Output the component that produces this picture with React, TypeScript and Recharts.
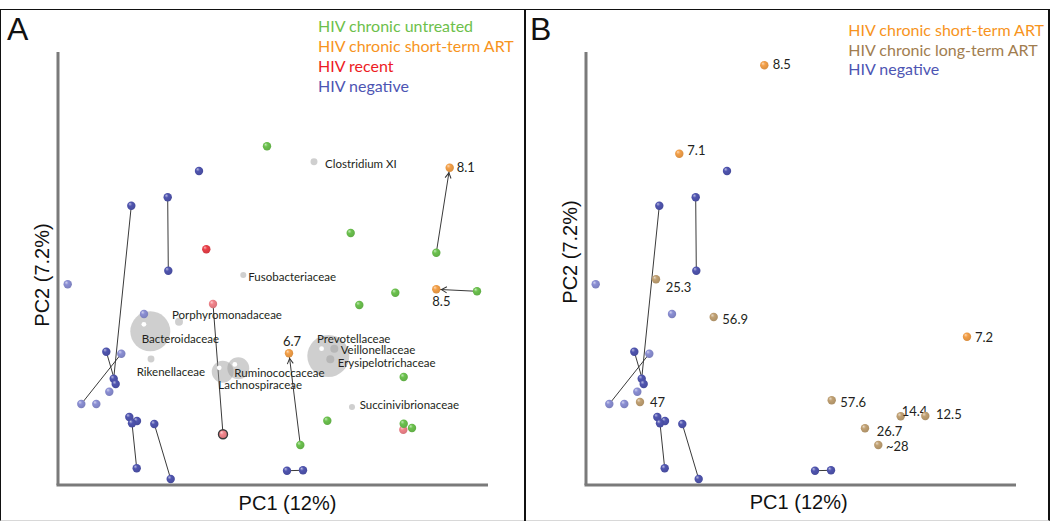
import React from 'react';
import { ScatterChart, Scatter, XAxis, YAxis, ReferenceLine } from 'recharts';

type Pt = { id: string; pc1: number; pc2: number; label?: string };
type Taxon = { name: string; pc1: number; pc2: number; abundance: number };

// ---------- data (PC scores) ----------
const hivNegative: Pt[] = [
  { id: 'n1', pc1: 141, pc2: 314 },
  { id: 'n2', pc1: 109.7, pc2: 287.7 },
  { id: 'n3', pc1: 73.3, pc2: 279.3 },
  { id: 'n4', pc1: 110.3, pc2: 214.3 },
  { id: 'n7', pc1: 48.3, pc2: 133.3 },
  { id: 'n9', pc1: 55.7, pc2: 106.3 },
  { id: 'n10', pc1: 57.7, pc2: 101 },
  { id: 'n14', pc1: 71.3, pc2: 68 },
  { id: 'n15', pc1: 79, pc2: 64 },
  { id: 'n16', pc1: 74, pc2: 61.7 },
  { id: 'n17', pc1: 96.3, pc2: 61 },
  { id: 'n18', pc1: 78.7, pc2: 16.7 },
  { id: 'n19', pc1: 112.7, pc2: 6 },
  { id: 'n20', pc1: 229, pc2: 14.3 },
  { id: 'n21', pc1: 245, pc2: 14.7 },
];
const hivNegativeFaded: Pt[] = [
  { id: 'n5', pc1: 9.7, pc2: 200.7 },
  { id: 'n6', pc1: 86, pc2: 171 },
  { id: 'n8', pc1: 63.3, pc2: 131.3 },
  { id: 'n11', pc1: 51.3, pc2: 93.3 },
  { id: 'n12', pc1: 23.3, pc2: 81 },
  { id: 'n13', pc1: 38.3, pc2: 81 },
];
const hivChronicUntreated: Pt[] = [
  { id: 'g1', pc1: 209, pc2: 338.7 },
  { id: 'g2', pc1: 292.7, pc2: 252 },
  { id: 'g3', pc1: 378.3, pc2: 232.3 },
  { id: 'g4', pc1: 337.3, pc2: 192.3 },
  { id: 'g5', pc1: 301.3, pc2: 180 },
  { id: 'g6', pc1: 419, pc2: 193.7 },
  { id: 'g7', pc1: 345.7, pc2: 108 },
  { id: 'g8', pc1: 269.3, pc2: 64.3 },
  { id: 'g9', pc1: 242.3, pc2: 40 },
  { id: 'g10', pc1: 345.7, pc2: 61.3 },
  { id: 'g11', pc1: 354, pc2: 57 },
];
const hivRecent: Pt[] = [{ id: 'r1', pc1: 148.3, pc2: 235.7 }];
const hivRecentFaded: Pt[] = [
  { id: 'r2', pc1: 155, pc2: 181 },
  { id: 'r3', pc1: 165, pc2: 50.7 },
  { id: 'r4', pc1: 345.3, pc2: 55.3 },
];
const hivRecentMarked = ['r3'];
const shortTermArtA: Pt[] = [
  { id: 'o1', pc1: 391.7, pc2: 317.3, label: '8.1' },
  { id: 'o2', pc1: 378.3, pc2: 195.7, label: '8.5' },
  { id: 'o3', pc1: 231, pc2: 131.7, label: '6.7' },
];
const shortTermArtB: Pt[] = [
  { id: 'b1', pc1: 178.3, pc2: 419.7, label: '8.5' },
  { id: 'b2', pc1: 93.3, pc2: 331.3, label: '7.1' },
  { id: 'b3', pc1: 381, pc2: 148.3, label: '7.2' },
];
const longTermArtB: Pt[] = [
  { id: 'l1', pc1: 70, pc2: 205.7, label: '25.3' },
  { id: 'l2', pc1: 127.7, pc2: 168, label: '56.9' },
  { id: 'l3', pc1: 54, pc2: 83, label: '47' },
  { id: 'l4', pc1: 245.7, pc2: 84.7, label: '57.6' },
  { id: 'l5', pc1: 314.7, pc2: 68.7, label: '14.4' },
  { id: 'l6', pc1: 339.3, pc2: 69, label: '12.5' },
  { id: 'l7', pc1: 279, pc2: 56.7, label: '26.7' },
  { id: 'l8', pc1: 292.3, pc2: 40, label: '~28' },
];
const taxa: Taxon[] = [
  { name: 'Bacteroidaceae', pc1: 92.3, pc2: 153.7, abundance: 100 },
  { name: 'Prevotellaceae', pc1: 270.3, pc2: 129, abundance: 110 },
  { name: 'Lachnospiraceae', pc1: 164.7, pc2: 113.3, abundance: 30 },
  { name: 'Ruminococcaceae', pc1: 180.3, pc2: 116.7, abundance: 30 },
  { name: 'Clostridium XI', pc1: 256, pc2: 323.3, abundance: 3 },
  { name: 'Fusobacteriaceae', pc1: 185.3, pc2: 210, abundance: 2.3 },
  { name: 'Porphyromonadaceae', pc1: 121, pc2: 163.3, abundance: 4 },
  { name: 'Rikenellaceae', pc1: 93, pc2: 126, abundance: 3 },
  { name: 'Veillonellaceae', pc1: 276.3, pc2: 136.3, abundance: 4 },
  { name: 'Erysipelotrichaceae', pc1: 272.3, pc2: 125.7, abundance: 4 },
  { name: 'Succinivibrionaceae', pc1: 294, pc2: 78, abundance: 2.3 },
];
const negativePairs: [string, string][] = [
  ['n3', 'n9'], ['n2', 'n4'], ['n7', 'n10'], ['n8', 'n12'],
  ['n14', 'n15'], ['n16', 'n18'], ['n17', 'n19'], ['n20', 'n21'],
];
const panelAPairs: [string, string][] = [['r2', 'r3']];
const panelAArrows: [string, string][] = [['g3', 'o1'], ['g6', 'o2'], ['g9', 'o3']];
const legendA = [
  { text: 'HIV chronic untreated', color: '#6dbf4b' },
  { text: 'HIV chronic short-term ART', color: '#f7941d' },
  { text: 'HIV recent', color: '#ed1c24' },
  { text: 'HIV negative', color: '#4d55b3' },
];
const legendB = [
  { text: 'HIV chronic short-term ART', color: '#f7941d' },
  { text: 'HIV chronic long-term ART', color: '#a17d4f' },
  { text: 'HIV negative', color: '#4d55b3' },
];
const xTitle = 'PC1 (12%)';
const yTitle = 'PC2 (7.2%)';

// ---------- layout / style ----------
const X_DOMAIN: [number, number] = [0, 430];
const Y_DOMAIN: [number, number] = [0, 433];
const W = 525;
const H = 522;
const MARGIN = { top: 52, right: 37, bottom: 37, left: 58 };
const SANS = 'Lato, "Open Sans", sans-serif';
const ARIAL = '"Liberation Sans", Arial, sans-serif';
const DOT_R = 4.2;
const AXIS_COLOR = '#7a7a7a';

const COLORS: Record<string, string> = {
  neg: '#5055b0',
  negFaded: '#8b8fd4',
  untreated: '#6cc24e',
  recent: '#ea3f48',
  recentFaded: '#f2848b',
  shortArt: '#f4a048',
  longArt: '#c1a173',
};

const taxonLabelOffset: Record<string, [number, number]> = {
  'Clostridium XI': [11, 1.5],
  Fusobacteriaceae: [5, 1.5],
  Porphyromonadaceae: [-7, -7],
  Bacteroidaceae: [-8.6, 7],
  Rikenellaceae: [-14.3, 12],
  Ruminococcaceae: [-4, 4.5],
  Lachnospiraceae: [-4.4, 12.5],
  Prevotellaceae: [-11.3, -17.5],
  Veillonellaceae: [6.4, 1.2],
  Erysipelotrichaceae: [7.4, 2.8],
  Succinivibrionaceae: [7.7, -2.5],
};
const numberLabelOffset: Record<string, [number, number]> = {
  o1: [7, -1], o2: [-4, 11.5], o3: [-6, -12.5],
  b1: [8.4, -1], b2: [8, -4], b3: [8, 0],
  l1: [9.7, 7.5], l2: [8.6, 1.5], l3: [10, 0], l4: [8.6, 2],
  l5: [1, -5.3], l6: [10.7, -1.7], l7: [11.7, 2.4], l8: [7.7, 0.7],
};

function mix(hex: string, other: string, t: number) {
  const a = parseInt(hex.slice(1), 16);
  const b = parseInt(other.slice(1), 16);
  const ch = (v: number, s: number) => (v >> s) & 255;
  const r = Math.round(ch(a, 16) * (1 - t) + ch(b, 16) * t);
  const g = Math.round(ch(a, 8) * (1 - t) + ch(b, 8) * t);
  const bl = Math.round(ch(a, 0) * (1 - t) + ch(b, 0) * t);
  return '#' + ((1 << 24) + (r << 16) + (g << 8) + bl).toString(16).slice(1);
}

const Defs = ({ prefix }: { prefix: string }) => (
  <defs>
    {Object.keys(COLORS).map((k) => (
      <radialGradient key={k} id={`${prefix}-${k}`} cx="45%" cy="42%" r="60%" fx="32%" fy="28%">
        <stop offset="0%" stopColor={mix(COLORS[k], '#ffffff', 0.6)} />
        <stop offset="38%" stopColor={COLORS[k]} />
        <stop offset="100%" stopColor={mix(COLORS[k], '#000000', 0.12)} />
      </radialGradient>
    ))}
    <marker id={`${prefix}-arrow`} markerWidth="10" markerHeight="10" refX="12" refY="5" orient="auto" markerUnits="userSpaceOnUse">
      <path d="M1.5,2 L6.8,5 L1.5,8" fill="none" stroke="#333" strokeWidth="1" />
    </marker>
  </defs>
);

const ball = (prefix: string, key: string) => (props: any) => {
  const { cx, cy } = props;
  const p = props.payload ?? props;
  if (cx == null || cy == null) return <g />;
  const marked = hivRecentMarked.includes(p.id);
  const off = p.label ? numberLabelOffset[p.id] : null;
  return (
    <g>
      <circle
        cx={cx}
        cy={cy}
        r={marked ? DOT_R + 0.3 : DOT_R}
        fill={`url(#${prefix}-${key})`}
        stroke={marked ? '#3a3a3a' : 'none'}
        strokeWidth={marked ? 1.4 : 0}
      />
      {p.label && off ? (
        <text
          x={cx + off[0]}
          y={cy + off[1]}
          dominantBaseline="central"
          fontFamily={SANS}
          fontSize={13}
          fill="#231f20"
        >
          {p.label}
        </text>
      ) : null}
    </g>
  );
};

const taxonShape = (props: any) => {
  const { cx, cy } = props;
  const p = props.payload ?? props;
  if (cx == null || cy == null) return <g />;
  const r = 2 * Math.sqrt(p.abundance);
  const off = taxonLabelOffset[p.name] || [6, 0];
  return (
    <g>
      <circle cx={cx} cy={cy} r={r} fill="#9a9a9a" fillOpacity={0.48} />
      {r > 8 ? <circle cx={cx - 0.32 * r} cy={cy - 0.35 * r} r={2.4} fill="#ffffff" /> : null}
      <text
        x={cx + off[0]}
        y={cy + off[1]}
        dominantBaseline="central"
        fontFamily={SANS}
        fontSize={11.5}
        fill="#231f20"
      >
        {p.name}
      </text>
    </g>
  );
};

const allPoints: Pt[] = [
  ...hivNegative, ...hivNegativeFaded, ...hivChronicUntreated, ...hivRecent,
  ...hivRecentFaded, ...shortTermArtA,
];
const find = (id: string) => allPoints.find((p) => p.id === id)!;

const segments = (pairs: [string, string][], prefix: string, arrow: boolean) =>
  pairs.map(([a, b]) => {
    const pa = find(a);
    const pb = find(b);
    return (
      <ReferenceLine
        key={`${prefix}-${a}-${b}`}
        segment={[{ x: pa.pc1, y: pa.pc2 }, { x: pb.pc1, y: pb.pc2 }]}
        ifOverflow="visible"
        shape={(lp: any) => (
          <line
            x1={lp.x1}
            y1={lp.y1}
            x2={lp.x2}
            y2={lp.y2}
            stroke="#3a3a3a"
            strokeWidth={1}
            markerEnd={arrow ? `url(#${prefix}-arrow)` : undefined}
          />
        )}
      />
    );
  });

const Axes = () => (
  <>
    <XAxis type="number" dataKey="pc1" domain={X_DOMAIN} allowDataOverflow hide />
    <YAxis type="number" dataKey="pc2" domain={Y_DOMAIN} allowDataOverflow hide />
  </>
);

const axisLines = (key: string) => [
  <ReferenceLine
    key={`${key}-xa`}
    y={Y_DOMAIN[0]}
    ifOverflow="visible"
    shape={(lp: any) => (
      <line x1={lp.x1 - 1.5} y1={lp.y1} x2={lp.x2} y2={lp.y2} stroke={AXIS_COLOR} strokeWidth={3} />
    )}
  />,
  <ReferenceLine
    key={`${key}-ya`}
    x={X_DOMAIN[0]}
    ifOverflow="visible"
    shape={(lp: any) => (
      <line x1={lp.x1} y1={lp.y1} x2={lp.x2} y2={lp.y2} stroke={AXIS_COLOR} strokeWidth={3} />
    )}
  />,
];

const Texts = ({
  letter, legend, legendX, legendY, legendStep, xTitleX, xTitleY, yTitleY,
}: any) => (
  <g>
    <text x={letter === 'A' ? 7 : 2} y={40} fontFamily={ARIAL} fontSize={32} fill="#111">
      {letter}
    </text>
    {legend.map((l: any, i: number) => (
      <text key={l.text} x={legendX} y={legendY + i * legendStep} fontFamily={SANS} fontSize={16} fill={l.color}>
        {l.text}
      </text>
    ))}
    <text x={xTitleX} y={xTitleY} textAnchor="middle" fontFamily={ARIAL} fontSize={20} fill="#111">
      {xTitle}
    </text>
    <text
      x={42}
      y={yTitleY + 7}
      textAnchor="middle"
      fontFamily={ARIAL}
      fontSize={20}
      fill="#111"
      transform={`rotate(-90, 42, ${yTitleY})`}
    >
      {yTitle}
    </text>
  </g>
);

const PanelA = () => (
  <ScatterChart width={W} height={H} margin={MARGIN}>
    <Defs prefix="pa" />
    <Axes />
    {axisLines('pa')}
    <Scatter data={taxa} dataKey="pc2" shape={taxonShape} isAnimationActive={false} />
    {segments(negativePairs, 'pa', false)}
    {segments(panelAPairs, 'pa', false)}
    {segments(panelAArrows, 'pa', true)}
    <Scatter data={hivNegativeFaded} shape={ball('pa', 'negFaded')} isAnimationActive={false} />
    <Scatter data={hivNegative} shape={ball('pa', 'neg')} isAnimationActive={false} />
    <Scatter data={hivRecentFaded} shape={ball('pa', 'recentFaded')} isAnimationActive={false} />
    <Scatter data={hivRecent} shape={ball('pa', 'recent')} isAnimationActive={false} />
    <Scatter data={hivChronicUntreated} shape={ball('pa', 'untreated')} isAnimationActive={false} />
    <Scatter data={shortTermArtA} shape={ball('pa', 'shortArt')} isAnimationActive={false} />
    <Texts letter="A" legend={legendA} legendX={318} legendY={31.5} legendStep={20} xTitleX={287.5} xTitleY={510} yTitleY={275} />
  </ScatterChart>
);

const PanelB = () => (
  <ScatterChart width={W} height={H} margin={MARGIN}>
    <Defs prefix="pb" />
    <Axes />
    {axisLines('pb')}
    {segments(negativePairs, 'pb', false)}
    <Scatter data={hivNegativeFaded} shape={ball('pb', 'negFaded')} isAnimationActive={false} />
    <Scatter data={hivNegative} shape={ball('pb', 'neg')} isAnimationActive={false} />
    <Scatter data={longTermArtB} shape={ball('pb', 'longArt')} isAnimationActive={false} />
    <Scatter data={shortTermArtB} shape={ball('pb', 'shortArt')} isAnimationActive={false} />
    <Texts letter="B" legend={legendB} legendX={320.3} legendY={36} legendStep={19.5} xTitleX={270.7} xTitleY={509} yTitleY={252} />
  </ScatterChart>
);

export default function App() {
  return (
    <div style={{ position: 'absolute', left: 0, top: 0, width: 1050, height: 522, background: '#fff', overflow: 'hidden' }}>
      <div
        style={{
          position: 'absolute', left: 0, top: 9, width: 1050, height: 512, boxSizing: 'border-box',
          borderTop: '1.5px solid #111', borderLeft: '1.5px solid #111', borderRight: '2px solid #111',
          borderBottom: '1px solid #d8d8d8',
        }}
      />
      <div style={{ position: 'absolute', left: 524.3, top: 9, width: 1.6, height: 512, background: '#111' }} />
      <div style={{ position: 'absolute', left: 0, top: 0 }}>
        <PanelA />
      </div>
      <div style={{ position: 'absolute', left: 528, top: 0 }}>
        <PanelB />
      </div>
    </div>
  );
}
